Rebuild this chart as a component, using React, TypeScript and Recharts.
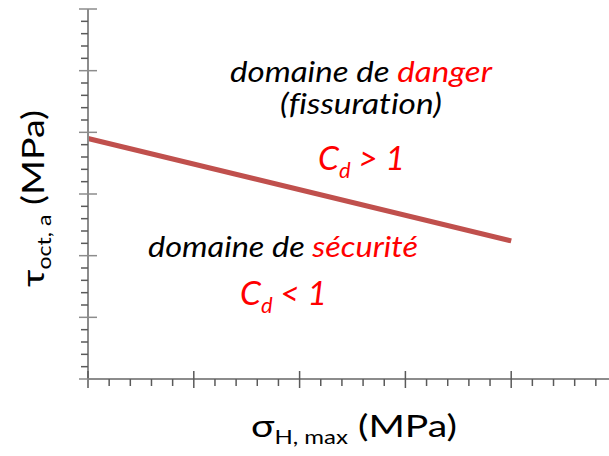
import { LineChart, Line, XAxis, YAxis } from "recharts";

// stress axis (σH,max) and octahedral shear axis (τoct,a), arbitrary units
const xMajorTicks = [0, 1, 2, 3, 4, 5];
const yMajorTicks = [0, 1, 2, 3, 4, 5, 6];
const minorPerMajor = 5;

// Dang Van limit line
const limitX = [0, 4];
const limitY = [3.9, 2.24];

const withMinor = (majors: number[]) => {
  const out: number[] = [];
  majors.forEach((m, i) => {
    out.push(m);
    if (i < majors.length - 1) {
      const step = (majors[i + 1] - m) / minorPerMajor;
      for (let k = 1; k < minorPerMajor; k++) out.push(+(m + k * step).toFixed(4));
    }
  });
  return out;
};

const isMajor = (v: number) => Math.abs(v - Math.round(v)) < 1e-6;

const AXIS = "#8c8c8c";
const TICK = "#5a5a5a";
const RED = "#ff0000";
const FONT = "Lato, 'Open Sans', sans-serif";

function YTick(props: any) {
  const { x, y, payload } = props;
  if (isMajor(payload.value)) {
    return <line x1={x - 9} x2={x + 9} y1={y} y2={y} stroke={AXIS} strokeWidth={1.5} />;
  }
  return <line x1={x - 7} x2={x} y1={y} y2={y} stroke={TICK} strokeWidth={1.5} />;
}

function XTick(props: any) {
  const { x, y, payload } = props;
  if (isMajor(payload.value)) {
    return <line x1={x} x2={x} y1={y - 8} y2={y + 9} stroke={TICK} strokeWidth={1.5} />;
  }
  return <line x1={x} x2={x} y1={y} y2={y + 7} stroke={TICK} strokeWidth={1.5} />;
}

export default function App() {
  const data = limitX.map((x, i) => ({ x, y: limitY[i] }));

  return (
    <div
      style={{
        position: "absolute",
        left: 0,
        top: 0,
        width: 609,
        height: 456,
        overflow: "hidden",
        background: "#fff",
      }}
    >
      <LineChart width={640} height={456} data={data} margin={{ top: 9, right: 23, bottom: 47, left: 28 }}>
        <XAxis
          type="number"
          dataKey="x"
          domain={[0, 5]}
          ticks={withMinor(xMajorTicks)}
          interval={0}
          height={30}
          tickSize={0}
          tickMargin={0}
          tick={<XTick />}
          tickLine={false}
          axisLine={{ stroke: AXIS, strokeWidth: 2 }}
        />
        <YAxis
          type="number"
          dataKey="y"
          domain={[0, 6]}
          ticks={withMinor(yMajorTicks)}
          interval={0}
          width={60}
          tickSize={0}
          tickMargin={0}
          tick={<YTick />}
          tickLine={false}
          axisLine={{ stroke: AXIS, strokeWidth: 2 }}
        />
        <Line
          type="linear"
          dataKey="y"
          stroke="#c0504d"
          strokeWidth={5}
          dot={false}
          activeDot={false}
          isAnimationActive={false}
        />
      </LineChart>

      <svg
        width={609}
        height={456}
        style={{ position: "absolute", left: 0, top: 0, pointerEvents: "none", fontVariantLigatures: "none" }}
        fontFamily={FONT}
      >
        <text x={230} y={82} fontSize={28} fontStyle="italic" textLength={262} lengthAdjust="spacingAndGlyphs">
          domaine de <tspan fill={RED}>danger</tspan>
        </text>
        <text x={280} y={114} fontSize={28} fontStyle="italic" textLength={162} lengthAdjust="spacingAndGlyphs">
          (fissuration)
        </text>
        <text x={318} y={170} fontSize={32} fontStyle="italic" fill={RED} textLength={87} lengthAdjust="spacingAndGlyphs">
          C<tspan fontSize={21} dy={8}>d</tspan>
          <tspan dy={-8}> &gt; 1</tspan>
        </text>

        <text x={148} y={257} fontSize={28} fontStyle="italic" textLength={270} lengthAdjust="spacingAndGlyphs">
          domaine de <tspan fill={RED}>sécurité</tspan>
        </text>
        <text x={240} y={305} fontSize={32} fontStyle="italic" fill={RED} textLength={87} lengthAdjust="spacingAndGlyphs">
          C<tspan fontSize={21} dy={8}>d</tspan>
          <tspan dy={-8}> &lt; 1</tspan>
        </text>

        <text x={251} y={437} fontSize={31} textLength={206} lengthAdjust="spacingAndGlyphs">
          σ<tspan fontSize={19} dy={7}>H, max</tspan>
          <tspan dy={-7}> (MPa)</tspan>
        </text>

        <text
          transform="translate(44, 287) rotate(-90)"
          fontSize={31}
          textLength={177}
          lengthAdjust="spacingAndGlyphs"
        >
          τ<tspan fontSize={19} dy={7}>oct, a</tspan>
          <tspan dy={-7}> (MPa)</tspan>
        </text>
      </svg>
    </div>
  );
}
